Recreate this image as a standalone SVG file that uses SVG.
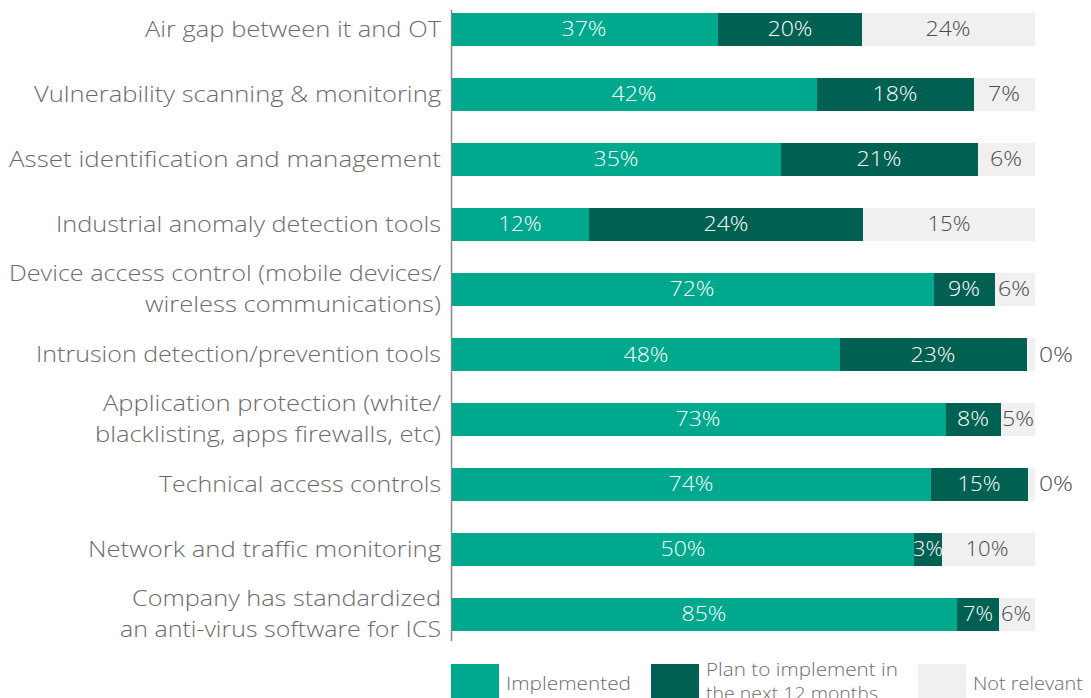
<svg xmlns="http://www.w3.org/2000/svg" width="1091" height="698" viewBox="0 0 1091 698">
<style>
.lbl{font-family:"Open Sans","Liberation Sans",sans-serif;font-size:22px;font-weight:300;fill:#6b6b6b;text-anchor:end}
.pw{font-family:"Open Sans","Liberation Sans",sans-serif;font-size:20px;font-weight:300;fill:#ffffff;text-anchor:middle}
.pd{font-family:"Open Sans","Liberation Sans",sans-serif;font-size:20px;font-weight:300;fill:#4a4a4a;text-anchor:middle}
.lg{font-family:"Open Sans","Liberation Sans",sans-serif;font-size:19px;font-weight:300;fill:#6b6b6b}
.a{fill:#00a88e}.b{fill:#006052}.c{fill:#f0f0f0}
</style>
<rect width="1091" height="698" fill="#ffffff"/>
<g id="axis"><line x1="451.5" y1="10" x2="451.5" y2="641" stroke="#8a8a8a" stroke-width="1.5"/></g>
<g id="row1">
<text class="lbl" x="441" y="37" textLength="296" lengthAdjust="spacingAndGlyphs">Air gap between it and OT</text>
<rect class="a" x="452" y="13" width="266" height="33"/><rect class="b" x="718" y="13" width="144" height="33"/><rect class="c" x="862" y="13" width="173" height="33"/>
<text class="pw" x="584" y="36" textLength="45" lengthAdjust="spacingAndGlyphs">37%</text><text class="pw" x="790" y="36" textLength="45" lengthAdjust="spacingAndGlyphs">20%</text><text class="pd" x="948" y="36" textLength="45" lengthAdjust="spacingAndGlyphs">24%</text>
</g>
<g id="row2">
<text class="lbl" x="441" y="102" textLength="407" lengthAdjust="spacingAndGlyphs">Vulnerability scanning &amp; monitoring</text>
<rect class="a" x="452" y="78" width="365" height="33"/><rect class="b" x="817" y="78" width="157" height="33"/><rect class="c" x="974" y="78" width="61" height="33"/>
<text class="pw" x="634" y="101" textLength="45" lengthAdjust="spacingAndGlyphs">42%</text><text class="pw" x="895" y="101" textLength="45" lengthAdjust="spacingAndGlyphs">18%</text><text class="pd" x="1004" y="101" textLength="32" lengthAdjust="spacingAndGlyphs">7%</text>
</g>
<g id="row3">
<text class="lbl" x="441" y="167" textLength="432" lengthAdjust="spacingAndGlyphs">Asset identification and management</text>
<rect class="a" x="452" y="143" width="329" height="33"/><rect class="b" x="781" y="143" width="197" height="33"/><rect class="c" x="978" y="143" width="57" height="33"/>
<text class="pw" x="616" y="166" textLength="45" lengthAdjust="spacingAndGlyphs">35%</text><text class="pw" x="879" y="166" textLength="45" lengthAdjust="spacingAndGlyphs">21%</text><text class="pd" x="1006" y="166" textLength="32" lengthAdjust="spacingAndGlyphs">6%</text>
</g>
<g id="row4">
<text class="lbl" x="441" y="232" textLength="385" lengthAdjust="spacingAndGlyphs">Industrial anomaly detection tools</text>
<rect class="a" x="452" y="208" width="137" height="33"/><rect class="b" x="589" y="208" width="274" height="33"/><rect class="c" x="863" y="208" width="172" height="33"/>
<text class="pw" x="520" y="231" textLength="43" lengthAdjust="spacingAndGlyphs">12%</text><text class="pw" x="726" y="231" textLength="45" lengthAdjust="spacingAndGlyphs">24%</text><text class="pd" x="949" y="231" textLength="43" lengthAdjust="spacingAndGlyphs">15%</text>
</g>
<g id="row5">
<text class="lbl" x="441" y="281" textLength="432" lengthAdjust="spacingAndGlyphs">Device access control (mobile devices/</text>
<text class="lbl" x="441" y="312" textLength="296" lengthAdjust="spacingAndGlyphs">wireless communications)</text>
<rect class="a" x="452" y="273" width="482" height="33"/><rect class="b" x="934" y="273" width="61" height="33"/><rect class="c" x="995" y="273" width="40" height="33"/>
<text class="pw" x="692" y="296" textLength="45" lengthAdjust="spacingAndGlyphs">72%</text><text class="pw" x="964" y="296" textLength="32" lengthAdjust="spacingAndGlyphs">9%</text><text class="pd" x="1014" y="296" textLength="32" lengthAdjust="spacingAndGlyphs">6%</text>
</g>
<g id="row6">
<text class="lbl" x="441" y="362" textLength="405" lengthAdjust="spacingAndGlyphs">Intrusion detection/prevention tools</text>
<rect class="a" x="452" y="338" width="388" height="33"/><rect class="b" x="840" y="338" width="187" height="33"/><rect class="c" x="1027" y="338" width="8" height="33"/>
<text class="pw" x="646" y="362" textLength="45" lengthAdjust="spacingAndGlyphs">48%</text><text class="pw" x="933" y="362" textLength="45" lengthAdjust="spacingAndGlyphs">23%</text><text class="pd" x="1056" y="362" textLength="34" lengthAdjust="spacingAndGlyphs">0%</text>
</g>
<g id="row7">
<text class="lbl" x="441" y="411" textLength="338" lengthAdjust="spacingAndGlyphs">Application protection (white/</text>
<text class="lbl" x="441" y="442" textLength="346" lengthAdjust="spacingAndGlyphs">blacklisting, apps firewalls, etc)</text>
<rect class="a" x="452" y="403" width="494" height="33"/><rect class="b" x="946" y="403" width="55" height="33"/><rect class="c" x="1001" y="403" width="34" height="33"/>
<text class="pw" x="698" y="426" textLength="45" lengthAdjust="spacingAndGlyphs">73%</text><text class="pw" x="973" y="426" textLength="32" lengthAdjust="spacingAndGlyphs">8%</text><text class="pd" x="1018" y="426" textLength="32" lengthAdjust="spacingAndGlyphs">5%</text>
</g>
<g id="row8">
<text class="lbl" x="441" y="492" textLength="282" lengthAdjust="spacingAndGlyphs">Technical access controls</text>
<rect class="a" x="452" y="468" width="479" height="33"/><rect class="b" x="931" y="468" width="97" height="33"/><rect class="c" x="1028" y="468" width="7" height="33"/>
<text class="pw" x="691" y="491" textLength="45" lengthAdjust="spacingAndGlyphs">74%</text><text class="pw" x="979" y="491" textLength="43" lengthAdjust="spacingAndGlyphs">15%</text><text class="pd" x="1056" y="491" textLength="34" lengthAdjust="spacingAndGlyphs">0%</text>
</g>
<g id="row9">
<text class="lbl" x="441" y="557" textLength="353" lengthAdjust="spacingAndGlyphs">Network and traffic monitoring</text>
<rect class="a" x="452" y="533" width="462" height="33"/><rect class="b" x="914" y="533" width="28" height="33"/><rect class="c" x="942" y="533" width="93" height="33"/>
<text class="pw" x="683" y="556" textLength="45" lengthAdjust="spacingAndGlyphs">50%</text><text class="pw" x="928" y="556" textLength="30" lengthAdjust="spacingAndGlyphs">3%</text><text class="pd" x="987" y="556" textLength="43" lengthAdjust="spacingAndGlyphs">10%</text>
</g>
<g id="row10">
<text class="lbl" x="441" y="606" textLength="309" lengthAdjust="spacingAndGlyphs">Company has standardized</text>
<text class="lbl" x="441" y="637" textLength="321" lengthAdjust="spacingAndGlyphs">an anti-virus software for ICS</text>
<rect class="a" x="452" y="598" width="505" height="33"/><rect class="b" x="957" y="598" width="42" height="33"/><rect class="c" x="999" y="598" width="36" height="33"/>
<text class="pw" x="704" y="621" textLength="45" lengthAdjust="spacingAndGlyphs">85%</text><text class="pw" x="978" y="621" textLength="30" lengthAdjust="spacingAndGlyphs">7%</text><text class="pd" x="1016" y="621" textLength="30" lengthAdjust="spacingAndGlyphs">6%</text>
</g>
<g id="legend">
<rect class="a" x="451" y="664" width="48" height="40"/>
<text class="lg" x="506" y="690" textLength="125" lengthAdjust="spacingAndGlyphs">Implemented</text>
<rect class="b" x="651" y="664" width="48" height="40"/>
<text class="lg" x="706" y="676" textLength="192" lengthAdjust="spacingAndGlyphs">Plan to implement in</text>
<text class="lg" x="706" y="700" textLength="172" lengthAdjust="spacingAndGlyphs">the next 12 months</text>
<rect class="c" x="918" y="664" width="48" height="40"/>
<text class="lg" x="973" y="690" textLength="110" lengthAdjust="spacingAndGlyphs">Not relevant</text>
</g>
</svg>
